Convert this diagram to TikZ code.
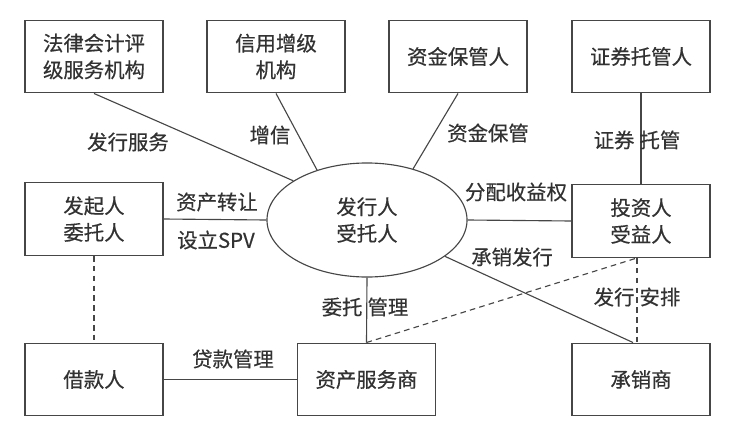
\documentclass[tikz,border=0pt]{standalone}
\usepackage{fontspec}
\usepackage{xcolor}
\usepackage{tikz}
\usetikzlibrary{shapes.geometric}
\newfontfamily\cjk[FakeBold=0.5]{Noto Sans CJK SC}
\definecolor{mytext}{RGB}{50,50,50}
\definecolor{myline}{RGB}{70,70,70}
\tikzset{
  box/.style={rectangle, draw=myline, fill=white,
    minimum width=3.45cm, minimum height=1.82cm, align=center,
    font=\cjk\fontsize{14.5}{19}\selectfont, text=mytext, line width=0.8pt},
  hub/.style={ellipse, draw=myline, fill=white,
    minimum width=5cm, minimum height=2.85cm, inner sep=0pt, align=center,
    font=\cjk\fontsize{14.5}{19}\selectfont, text=mytext, line width=0.8pt},
  lbl/.style={font=\cjk\fontsize{14.5}{19}\selectfont, text=mytext, inner sep=1pt},
  link/.style={line width=0.8pt, color=myline},
  dashlink/.style={link, dash pattern=on 4pt off 3pt}
}

\begin{document}
\begin{tikzpicture}[x=0.025cm, y=-0.025cm]
  \useasboundingbox (0,0) rectangle (730,434);

  % top row
  \node[box] (law) at (94, 56.5) {法律会计评\\级服务机构};
  \node[box] (credit) at (276, 56.5) {信用增级\\机构};
  \node[box] (custody) at (458, 56.5) {资金保管人};
  \node[box] (secdep) at (641, 56.5) {证券托管人};

  % middle row
  \node[box] (orig) at (94, 219) {发起人\\委托人};
  \node[hub] (issuer) at (367, 220) {发行人\\受托人};
  \node[box] (investor) at (641, 221) {投资人\\受益人};

  % bottom row
  \node[box] (borrower) at (94, 379.5) {借款人};
  \node[box] (servicer) at (366.5, 379.5) {资产服务商};
  \node[box] (under) at (641, 379.5) {承销商};

  % connections
  \draw[link] (law.south) -- (issuer.152);
  \draw[link] (credit.south) -- (issuer.135);
  \draw[link] (custody.south) -- (issuer.48);
  \draw[link] (secdep.south) -- (investor.north);
  \draw[link] (orig.east) -- (issuer.west);
  \draw[link] (investor.west) -- (issuer.east);
  \draw[link] (issuer.south) -- (servicer.north);
  \draw[link] (issuer.-25) -- ([xshift=-0.2cm]under.north);
  \draw[link] (borrower.east) -- (servicer.west);

  \draw[dashlink] (orig.south) -- (borrower.north);
  \draw[dashlink] (servicer.north) -- ([xshift=-0.1cm]investor.south);
  \draw[dashlink] ([xshift=-0.1cm]investor.south) -- ([xshift=-0.1cm]under.north);

  % labels
  \node[lbl] (l1) at (128, 142) {发行服务};
  \node[lbl] (l2) at (270, 135) {增信};
  \node[lbl] (l3) at (488, 133) {资金保管};
  \node[lbl] (l4) at (637, 140) {证券\hspace{0.25em}托管};
  \node[lbl] (l5) at (217, 202) {资产转让};
  \node[lbl] (l6) at (216, 240) {设立SPV};
  \node[lbl] (l7) at (516, 192) {分配收益权};
  \node[lbl] (l8) at (512, 257) {承销发行};
  \node[lbl] (l9) at (637, 297) {发行\hspace{0.25em}安排};
  \node[lbl] (l10) at (365, 307) {委托\hspace{0.25em}管理};
  \node[lbl] (l11) at (233, 359) {贷款管理};
\end{tikzpicture}
\end{document}
